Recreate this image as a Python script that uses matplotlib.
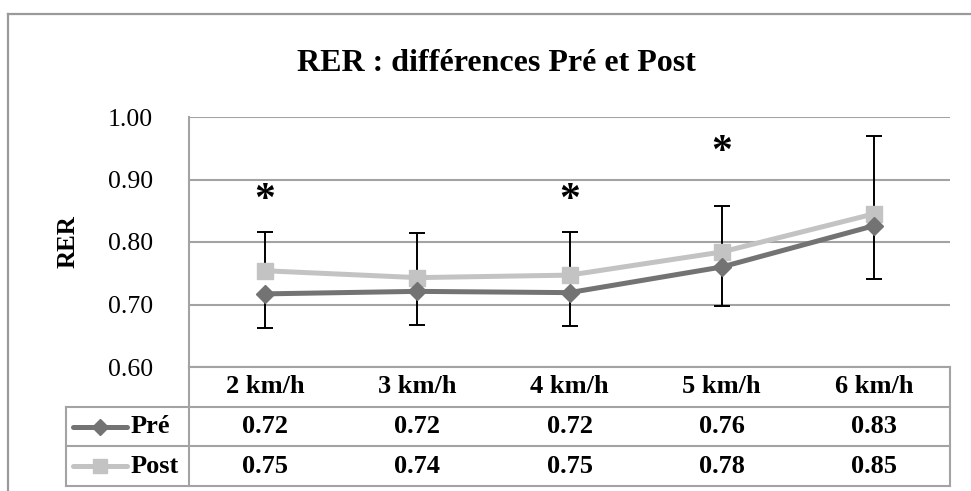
import numpy as np
import matplotlib
matplotlib.use("Agg")
import matplotlib.pyplot as plt
from matplotlib.lines import Line2D

# ---- data ----
speeds = ["2 km/h", "3 km/h", "4 km/h", "5 km/h", "6 km/h"]
pre_vals = [0.717, 0.721, 0.719, 0.760, 0.826]
post_vals = [0.754, 0.743, 0.747, 0.784, 0.845]
pre_err_low = [0.054, 0.053, 0.053, 0.063, 0.085]    # Pré: minus SD
post_err_high = [0.0625, 0.072, 0.0685, 0.074, 0.125]  # Post: plus SD
pre_table = ["0.72", "0.72", "0.72", "0.76", "0.83"]
post_table = ["0.75", "0.74", "0.75", "0.78", "0.85"]
sig_idx = [0, 2, 3]
sig_y = [0.866, 0.866, 0.942]
yticks = [0.60, 0.70, 0.80, 0.90, 1.00]

W, H = 971, 491
PRE_C = "#737373"
POST_C = "#c3c3c3"
GRID_C = "#a3a3a3"

plt.rcParams["font.family"] = ["Liberation Serif", "DejaVu Serif"]

fig = plt.figure(figsize=(W / 100, H / 100), dpi=100)
fig.patch.set_facecolor("white")

def fx(px):
    return px / W

def fy(py):
    return 1 - py / H

# outer chart border (left + top visible)
fig.add_artist(Line2D([fx(8), fx(8)], [0, fy(14)], color="#9a9a9a", lw=1.6))
fig.add_artist(Line2D([fx(8), 1], [fy(14), fy(14)], color="#9a9a9a", lw=1.6))

# ---- main plot ----
L, R, T, B = 189, 950, 117, 367
ax = fig.add_axes([fx(L), fy(B), fx(R - L), (B - T) / H])
x = np.arange(len(speeds))

ax.set_xlim(-0.5, len(speeds) - 0.5)
ax.set_ylim(0.6, 1.0)
ax.set_yticks(yticks)
ax.set_yticklabels([f"{v:.2f}" for v in yticks], fontsize=18.5)
ax.tick_params(axis="y", length=0, pad=26)
ax.set_xticks([])
for y in yticks:
    ax.axhline(y, color=GRID_C, lw=1.5, zorder=1)
for s in ["top", "right", "bottom"]:
    ax.spines[s].set_visible(False)
ax.spines["left"].set_color(GRID_C)
ax.spines["left"].set_linewidth(1.5)

ax.errorbar(x, pre_vals, yerr=[pre_err_low, np.zeros(len(x))], fmt="none",
            ecolor="black", elinewidth=1.4, capsize=6, capthick=1.4, zorder=2)
ax.errorbar(x, post_vals, yerr=[np.zeros(len(x)), post_err_high], fmt="none",
            ecolor="black", elinewidth=1.4, capsize=6, capthick=1.4, zorder=2)

ax.plot(x, post_vals, color=POST_C, lw=3.6, marker="s", ms=11,
        markerfacecolor=POST_C, markeredgecolor=POST_C, zorder=3)
ax.plot(x, pre_vals, color=PRE_C, lw=3.6, marker="D", ms=9.5,
        markerfacecolor=PRE_C, markeredgecolor=PRE_C, zorder=4)

for i, yv in zip(sig_idx, sig_y):
    ax.text(x[i], yv, "*", ha="center", va="center", fontsize=30,
            fontweight="bold", zorder=5)

ax.set_ylabel("RER", fontsize=18, fontweight="bold", labelpad=0)
ax.yaxis.set_label_coords((80 - L) / (R - L), 0.5)

fig.text(fx(496), fy(71), "RER : différences Pré et Post", ha="center",
         va="baseline", fontsize=23, fontweight="bold")

# ---- data table under the plot ----
TL, TB = 66, 486
unit = (R - L) / len(speeds)
x_left = -0.5 - (L - TL) / unit
tab = fig.add_axes([fx(TL), fy(TB), fx(R - TL), (TB - B) / H])
tab.set_xlim(x_left, len(speeds) - 0.5)
tab.set_ylim(0, 3)
tab.axis("off")

lk = dict(color=GRID_C, lw=1.5, clip_on=False)
tab.plot([-0.5, 4.5], [3, 3], **lk)
for yy in [2, 1, 0]:
    tab.plot([x_left, 4.5], [yy, yy], **lk)
tab.plot([x_left, x_left], [0, 2], **lk)
tab.plot([-0.5, -0.5], [0, 3], **lk)
tab.plot([4.5, 4.5], [0, 3], **lk)

fs = 19
for i, lab in enumerate(speeds):
    tab.text(x[i], 2.5, lab, ha="center", va="center", fontsize=fs, fontweight="bold")
    tab.text(x[i], 1.5, pre_table[i], ha="center", va="center", fontsize=fs, fontweight="bold")
    tab.text(x[i], 0.5, post_table[i], ha="center", va="center", fontsize=fs, fontweight="bold")

# legend keys inside the table
k0 = x_left + (73 - TL) / unit
k1 = x_left + (127 - TL) / unit
km = (k0 + k1) / 2
tab.plot([k0, km, k1], [1.5, 1.5, 1.5], color=PRE_C, lw=3.6, marker="D", ms=8,
         markevery=[1], solid_capstyle="round", clip_on=False)
tab.plot([k0, km, k1], [0.5, 0.5, 0.5], color=POST_C, lw=3.6, marker="s", ms=10,
         markevery=[1], solid_capstyle="round", clip_on=False)
lx = x_left + (131 - TL) / unit
tab.text(lx, 1.5, "Pré", ha="left", va="center", fontsize=fs, fontweight="bold")
tab.text(lx, 0.5, "Post", ha="left", va="center", fontsize=fs, fontweight="bold")

fig.savefig("out.png", dpi=100)
